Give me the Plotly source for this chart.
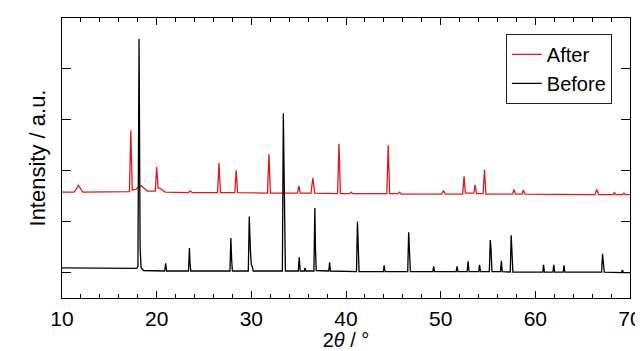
import plotly.graph_objects as go

# Before (black) pattern: 2theta / intensity vertices
before_2theta = [10.0, 17.9, 18.02, 18.14, 18.25, 18.35, 18.6,
                 20.85, 20.95, 21.05, 23.36, 23.46, 23.52, 23.6,
                 27.74, 27.84, 27.92, 28.0, 29.68, 29.78, 29.9, 30.0, 30.1, 30.2,
                 33.28, 33.38, 33.44, 33.52, 33.6, 34.96, 35.06, 35.16,
                 35.6, 35.67, 35.75, 36.61, 36.71, 36.77, 36.85,
                 38.18, 38.27, 38.36, 41.11, 41.21, 41.28, 41.38,
                 43.94, 44.03, 44.12, 46.52, 46.62, 46.7, 46.8,
                 49.17, 49.26, 49.35, 51.64, 51.73, 51.82, 52.8, 52.9, 53.0,
                 54.02, 54.11, 54.2, 55.14, 55.24, 55.32, 55.42,
                 56.32, 56.41, 56.5, 57.35, 57.45, 57.53, 57.63,
                 60.78, 60.87, 60.96, 61.86, 61.95, 62.04, 62.94, 63.03, 63.12,
                 67.0, 67.1, 67.18, 67.28, 69.1, 69.2, 69.3, 70.0]
before_intensity = [0.09, 0.08, 0.12, 4.59, 0.5, 0.1, 0.04,
                    0.03, 0.18, 0.03, 0.03, 0.48, 0.2, 0.03,
                    0.03, 0.68, 0.25, 0.03, 0.03, 1.10, 0.45, 0.15, 0.12, 0.03,
                    0.03, 3.13, 2.25, 0.5, 0.03, 0.03, 0.30, 0.03,
                    0.03, 0.09, 0.03, 0.03, 1.27, 0.5, 0.04,
                    0.03, 0.20, 0.03, 0.02, 1.00, 0.55, 0.02,
                    0.02, 0.14, 0.02, 0.02, 0.79, 0.3, 0.02,
                    0.02, 0.12, 0.02, 0.02, 0.12, 0.02, 0.02, 0.22, 0.02,
                    0.02, 0.15, 0.02, 0.02, 0.64, 0.45, 0.02,
                    0.02, 0.23, 0.02, 0.01, 0.73, 0.3, 0.01,
                    0.01, 0.15, 0.01, 0.01, 0.15, 0.01, 0.01, 0.14, 0.01,
                    0.01, 0.37, 0.15, 0.01, 0.0, 0.05, 0.0, 0.0]

# After (red) pattern, offset upward
after_2theta = [10.0, 11.3, 11.73, 12.2, 17.12, 17.27, 17.42, 17.8, 18.35, 19.0,
                19.85, 20.0, 20.15, 20.4, 20.9, 23.35, 23.55, 23.75,
                26.43, 26.58, 26.73, 28.25, 28.4, 28.55, 31.71, 31.86, 32.01,
                34.87, 35.02, 35.17, 36.3, 36.5, 36.7, 39.11, 39.26, 39.41,
                40.4, 40.55, 40.7, 44.31, 44.46, 44.61, 45.5, 45.67, 45.85,
                50.1, 50.3, 50.5, 52.32, 52.47, 52.62, 53.49, 53.64, 53.79,
                54.48, 54.63, 54.78, 57.6, 57.75, 57.9, 58.6, 58.74, 58.9,
                66.3, 66.49, 66.7, 68.2, 68.35, 68.5, 69.2, 69.35, 69.5, 70.0]
after_intensity = [1.58, 1.58, 1.71, 1.58, 1.59, 2.79, 1.62, 1.64, 1.71, 1.6,
                   1.6, 2.07, 1.66, 1.65, 1.58, 1.57, 1.6, 1.57,
                   1.57, 2.15, 1.57, 1.57, 2.01, 1.57, 1.56, 2.33, 1.56,
                   1.56, 1.70, 1.56, 1.56, 1.86, 1.56, 1.55, 2.53, 1.55,
                   1.55, 1.58, 1.55, 1.55, 2.50, 1.55, 1.55, 1.58, 1.54,
                   1.54, 1.61, 1.54, 1.54, 1.89, 1.56, 1.56, 1.72, 1.55,
                   1.55, 2.02, 1.54, 1.54, 1.63, 1.54, 1.54, 1.62, 1.54,
                   1.53, 1.63, 1.53, 1.53, 1.57, 1.53, 1.53, 1.56, 1.53, 1.53]

x_ticks = [10, 20, 30, 40, 50, 60, 70]
y_ticks = [0, 1, 2, 3, 4]

FONT = "Liberation Sans, Arial, sans-serif"

fig = go.Figure()
fig.add_trace(go.Scatter(x=after_2theta, y=after_intensity, mode="lines",
                         name="After", line=dict(color="#e0181c", width=1.3)))
fig.add_trace(go.Scatter(x=before_2theta, y=before_intensity, mode="lines",
                         name="Before", line=dict(color="#000000", width=1.3)))

# page body has an 8px default margin: figure sized to fit the remaining window
fig.update_layout(
    width=635, height=343,
    margin=dict(l=54, r=13, t=10, b=53),
    paper_bgcolor="white", plot_bgcolor="white",
    font=dict(family=FONT, color="black", size=21),
    showlegend=True,
    legend=dict(x=0.968, y=0.943, xanchor="right", yanchor="top",
                bgcolor="white", bordercolor="#222", borderwidth=1,
                font=dict(size=20), tracegroupgap=0, itemwidth=30),
)
fig.update_xaxes(
    range=[10, 70], tickvals=x_ticks, ticks="inside", ticklen=7, tickwidth=1.2,
    tickcolor="black", showline=True, linecolor="black", linewidth=1.3,
    mirror="ticks", showgrid=False, zeroline=False, automargin=False,
    tickfont=dict(size=21), ticklabelstandoff=2,
    minor=dict(dtick=2, tick0=10, ticks="inside", ticklen=4, tickcolor="black", showgrid=False),
    title=dict(text="2<i>θ</i> / °", font=dict(size=20), standoff=0),
)
fig.update_yaxes(
    range=[-0.5, 5.0], tickvals=y_ticks, ticks="inside", ticklen=9, tickwidth=1.2,
    tickcolor="black", showticklabels=False, showline=True, linecolor="black",
    linewidth=1.3, mirror="ticks", showgrid=False, zeroline=False, automargin=False,
    title=dict(text="Intensity / a.u.", font=dict(size=22), standoff=9),
)

fig.write_html("out.html")
